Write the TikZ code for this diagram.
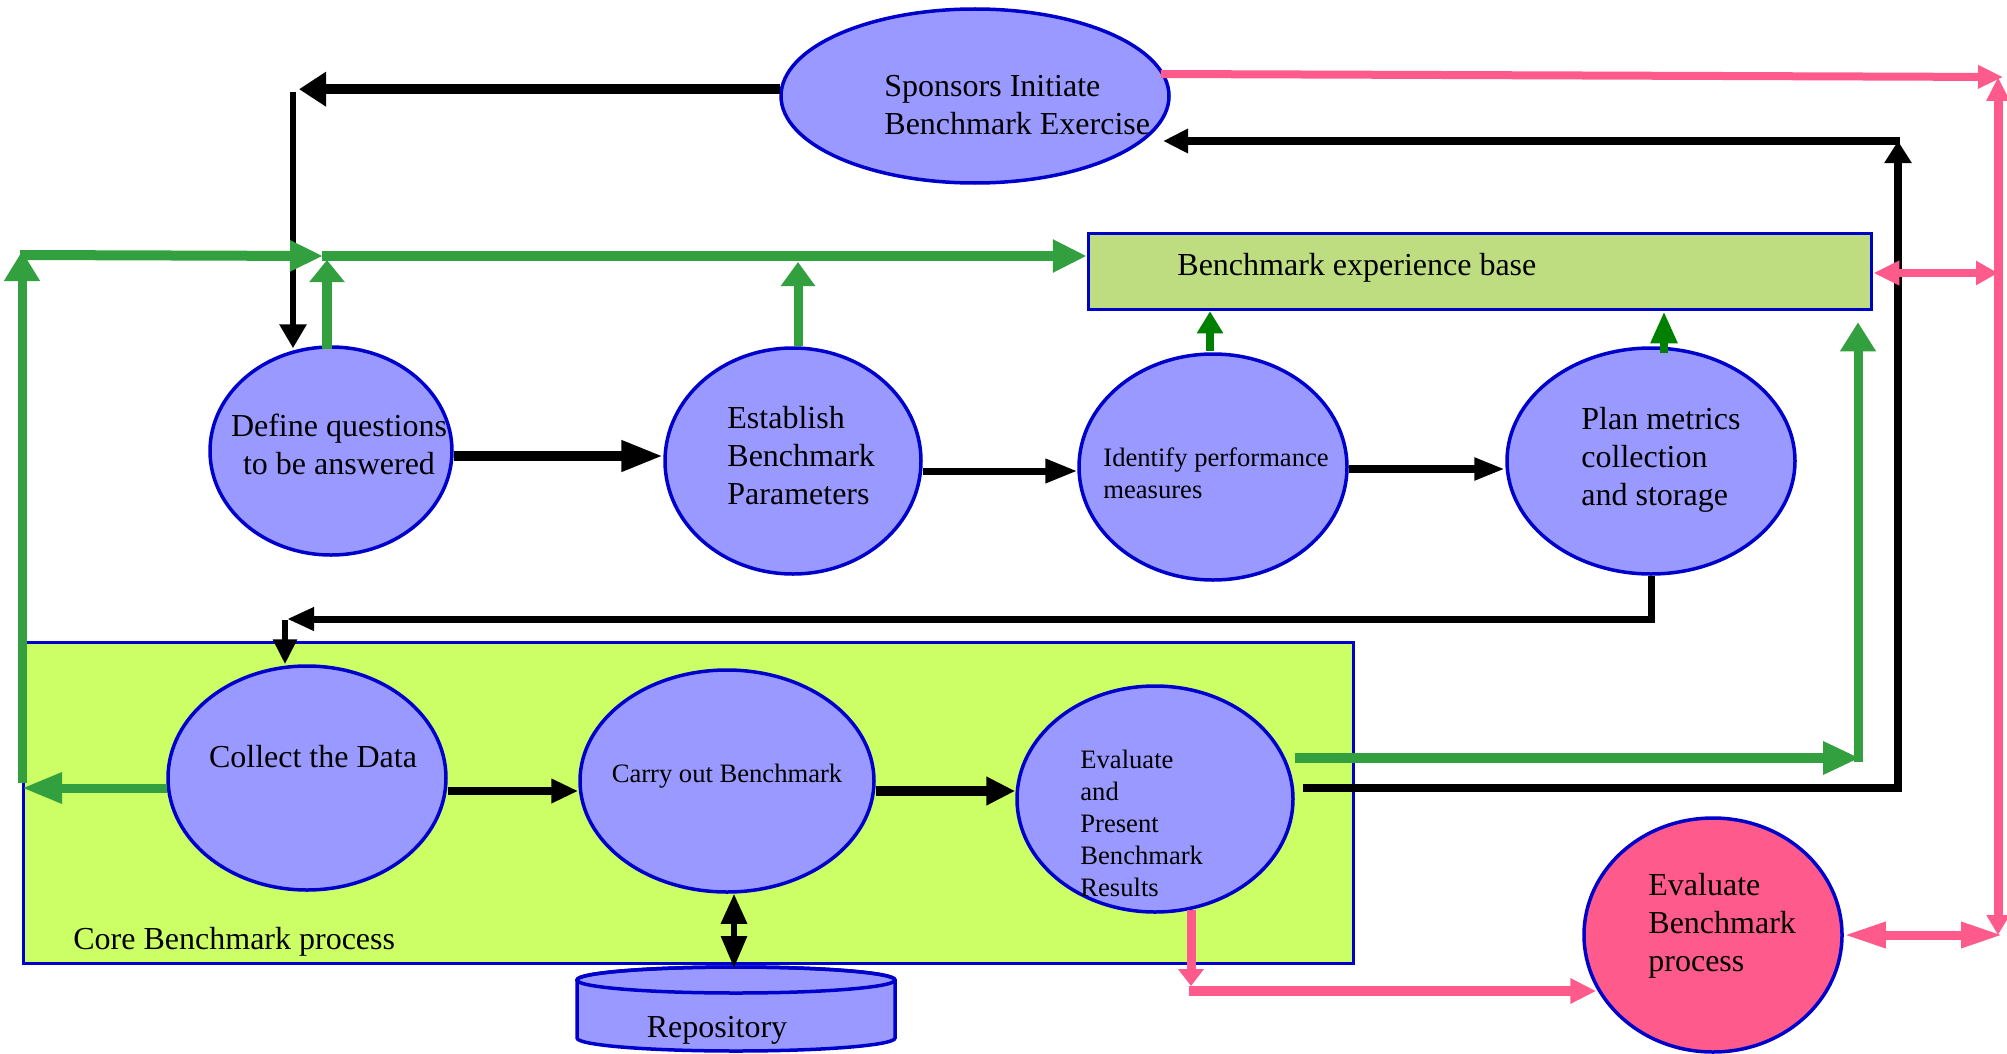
\documentclass[tikz,border=0pt]{standalone}
\usepackage{fontspec}
\setmainfont{Liberation Serif}
\usetikzlibrary{arrows.meta,shapes.geometric,calc}
\definecolor{ellfill}{RGB}{153,153,255}
\definecolor{bordblue}{RGB}{0,0,204}
\definecolor{expfill}{RGB}{190,220,128}
\definecolor{corefill}{RGB}{204,255,102}
\definecolor{pinkc}{RGB}{255,90,140}
\definecolor{greenc}{RGB}{51,160,64}
\definecolor{dgreen}{RGB}{0,128,0}
\begin{document}
\begin{tikzpicture}[x=0.5pt,y=-0.5pt,line join=miter,
  proc/.style={ellipse, draw=bordblue, line width=1.75pt, fill=ellfill, inner sep=0pt},
  box/.style={rectangle, draw=bordblue, line width=1.75pt, inner sep=0pt},
  bigt/.style={font=\fontsize{16}{19}\selectfont, inner sep=0pt, align=left},
  smallt/.style={font=\fontsize{13.3}{16}\selectfont, inner sep=0pt, align=left},
  blk/.style={draw=black},
  grn/.style={draw=greenc, fill=greenc},
  dgrn/.style={draw=dgreen, fill=dgreen},
  pnk/.style={draw=pinkc, fill=pinkc}]
\useasboundingbox (0,0) rectangle (2007,1054);

% background boxes
\node[box, fill=corefill, minimum width=665pt, minimum height=160.5pt] (core) at (688.5,803) {};
\node[box, fill=expfill, minimum width=391.5pt, minimum height=38pt] (expbase) at (1480,271.5) {};

% process ellipses
\node[proc, minimum width=194pt, minimum height=87pt] (spons) at (975,96) {};
\node[proc, minimum width=121pt, minimum height=104pt] (define) at (331,451) {};
\node[proc, minimum width=128pt, minimum height=113pt] (establish) at (793,461) {};
\node[proc, minimum width=134pt, minimum height=113pt] (identify) at (1213,467) {};
\node[proc, minimum width=144pt, minimum height=113pt] (plan) at (1651,461) {};
\node[proc, minimum width=139pt, minimum height=112pt] (collect) at (307,778) {};
\node[proc, minimum width=147pt, minimum height=111pt] (carry) at (727,781) {};
\node[proc, minimum width=138pt, minimum height=113pt] (evalres) at (1155,799) {};
\node[proc, fill=pinkc, minimum width=129pt, minimum height=117pt] (evalproc) at (1713,935) {};

% repository cylinder
\filldraw[draw=bordblue, fill=ellfill, line width=1.75pt]
  (577,980) -- (577,1038) arc[start angle=180, end angle=360, x radius=79.5pt, y radius=6.5pt]
  -- (895,980) arc[start angle=0, end angle=180, x radius=79.5pt, y radius=6.5pt] -- cycle;
\draw[draw=bordblue, line width=1.75pt] (736,980) ellipse [x radius=79.5pt, y radius=6.5pt];
\coordinate (repotop) at (734,968);

% texts
\node[bigt, anchor=west] (spons-t) at (884,105) {Sponsors Initiate\\Benchmark Exercise};
\node[bigt, align=center] (define-t) at (339,444) {Define questions\\to be answered};
\node[bigt, anchor=west] (establish-t) at (727,456) {Establish\\Benchmark\\Parameters};
\node[smallt, anchor=west] (identify-t) at (1103,473) {Identify performance\\measures};
\node[bigt, anchor=west] (plan-t) at (1581,460) {Plan metrics\\collection\\and storage};
\node[bigt, anchor=west] (exp-t) at (1177,268) {Benchmark experience base};
\node[bigt] (collect-t) at (313,757) {Collect the Data};
\node[smallt] (carry-t) at (727,776) {Carry out Benchmark};
\node[smallt, anchor=west] (evalres-t) at (1080,823) {Evaluate\\and\\Present\\Benchmark\\Results};
\node[bigt, anchor=west] (evalproc-t) at (1648,926) {Evaluate\\Benchmark\\process};
\node[bigt, anchor=west] (core-t) at (73,942) {Core Benchmark process};
\node[bigt] (repo-t) at (717,1030) {Repository};

% ---------- black connectors ----------
\coordinate (cA) at (299,91);
\draw[blk, line width=5pt, -{Triangle[length=13.5pt,width=16.5pt]}] (spons.178.5) -- (spons.178.5 -| cA);
\coordinate (cB) at (293,92);
\draw[blk, line width=3pt, -{Triangle[length=12pt,width=13pt]}] (cB) -- ($(cB |- define.north)+(0,3)$);

\draw[blk, line width=5pt, -{Triangle[length=21pt,width=14.5pt]}] ($(define.east)+(0,5)$) -- ($(establish.west)+(0,-5)$);
\draw[blk, line width=3.5pt, -{Triangle[length=16pt,width=11.5pt]}] ($(establish.east)+(0,10)$) -- ($(identify.west)+(0,4)$);
\draw[blk, line width=4pt, -{Triangle[length=15.5pt,width=10.5pt]}] ($(identify.east)+(0,2)$) -- ($(plan.west)+(0,8)$);

\coordinate (cF) at (287,619);
\draw[blk, line width=3.5pt, -{Triangle[length=13.5pt,width=11pt]}] (plan.south) -- (plan.south |- cF) -- (cF);
\coordinate (cF2) at (285,620);
\draw[blk, line width=3pt, -{Triangle[length=12.5pt,width=11.5pt]}] (cF2) -- (cF2 |- collect.north);

\draw[blk, line width=4pt, -{Triangle[length=13.5pt,width=11.5pt]}] ($(collect.east)+(0,13)$) -- ($(carry.west)+(0,10)$);
\draw[blk, line width=5pt, -{Triangle[length=14.5pt,width=13.5pt]}] ($(carry.east)+(0,10)$) -- ($(evalres.west)+(0,-8)$);
\draw[blk, line width=3pt, {Triangle[length=15pt,width=12.5pt]}-{Triangle[length=16pt,width=12.5pt]}] (repotop |- carry.south) -- (repotop);

\coordinate (kC) at (1898,788);
\coordinate (kT) at (1898,141);
\coordinate (kL) at (1163,141);
\draw[blk, line width=4pt, -{Triangle[length=11pt,width=13pt]}] ($(evalres.east)+(8,-11)$) -- (kC) -- (kT);
\draw[blk, line width=4pt, -{Triangle[length=12.5pt,width=11.5pt]}] ($(kT)+(2,0)$) -- (kL);

% ---------- green connectors ----------
\coordinate (gL) at (22,788);
\draw[grn, line width=4.5pt, -{Triangle[length=20pt,width=14.5pt]}] ($(collect.west)+(1,10)$) -- (gL);
\coordinate (gLB) at (22,783);
\coordinate (gLT) at (22,251);
\draw[grn, line width=4.5pt, -{Triangle[length=15pt,width=17pt]}] (gLB) -- (gLT);
\coordinate (gH0) at (20,255);
\coordinate (gH1) at (323,256);
\draw[grn, line width=5pt, -{Triangle[length=16.5pt,width=14.5pt]}] (gH0) -- (gH1);
\coordinate (gDT) at (327,260);
\draw[grn, line width=5pt, -{Triangle[length=11pt,width=17pt]}] ($(define.north)+(-4,4)$) -- (gDT);
\coordinate (gS) at (322,256);
\draw[grn, line width=5pt, -{Triangle[length=17pt,width=15.5pt]}] (gS) -- (gS -| expbase.west);
\draw[grn, line width=4.5pt, -{Triangle[length=12pt,width=16.5pt]}] ($(establish.north)+(5,0)$) -- ($(gS -| establish.north)+(5,6)$);
\draw[dgrn, line width=4pt, -{Triangle[length=11pt,width=12.5pt]}] ($(identify.north)+(-3,-1)$) -- ($(identify.north |- expbase.south)+(-3,0)$);
\draw[dgrn, line width=4pt, -{Triangle[length=16pt,width=12.5pt]}] ($(plan.north)+(13,7)$) -- ($(plan.north |- expbase.south)+(13,0)$);

\coordinate (gR) at (1860,758);
\draw[grn, line width=5pt, -{Triangle[length=18.5pt,width=15.5pt]}] ($(evalres.east)+(0,-41)$) -- (gR);
\coordinate (gR2) at (1858,762);
\draw[grn, line width=4.5pt, -{Triangle[length=14.5pt,width=17pt]}] (gR2) -- ($(gR2 |- expbase.south)+(0,11)$);

% ---------- pink connectors ----------
\coordinate (pTR) at (2003,77);
\draw[pnk, line width=4pt, -{Triangle[length=12.5pt,width=11pt]}] ($(spons.east)+(-10,-22)$) -- (pTR);
\coordinate (pT) at (1998,77);
\coordinate (pB) at (1998,935);
\draw[pnk, line width=4.5pt, {Triangle[length=12pt,width=11pt]}-{Triangle[length=10pt,width=11pt]}] (pT) -- (pB);
\coordinate (pM) at (1998,273);
\draw[pnk, line width=4pt, {Triangle[length=13pt,width=11.5pt]}-{Triangle[length=11pt,width=11.5pt]}] (expbase.east |- pM) -- (pM);
\coordinate (pN) at (2003,935);
\draw[pnk, line width=4.5pt, {Triangle[length=21pt,width=12pt]}-{Triangle[length=21pt,width=12pt]}] (evalproc.east) -- (pN);
\coordinate (pO) at (1191,991);
\draw[pnk, line width=4.5pt, -{Triangle[length=8.5pt,width=12.5pt]}] ($(evalres.south)+(36,-4)$) -- ($(pO)+(0,-5)$);
\draw[pnk, line width=5pt, -{Triangle[length=13pt,width=12pt]}] ($(pO)+(-2,0)$) -- ($(pO -| evalproc.west)+(14,0)$);
\end{tikzpicture}
\end{document}
